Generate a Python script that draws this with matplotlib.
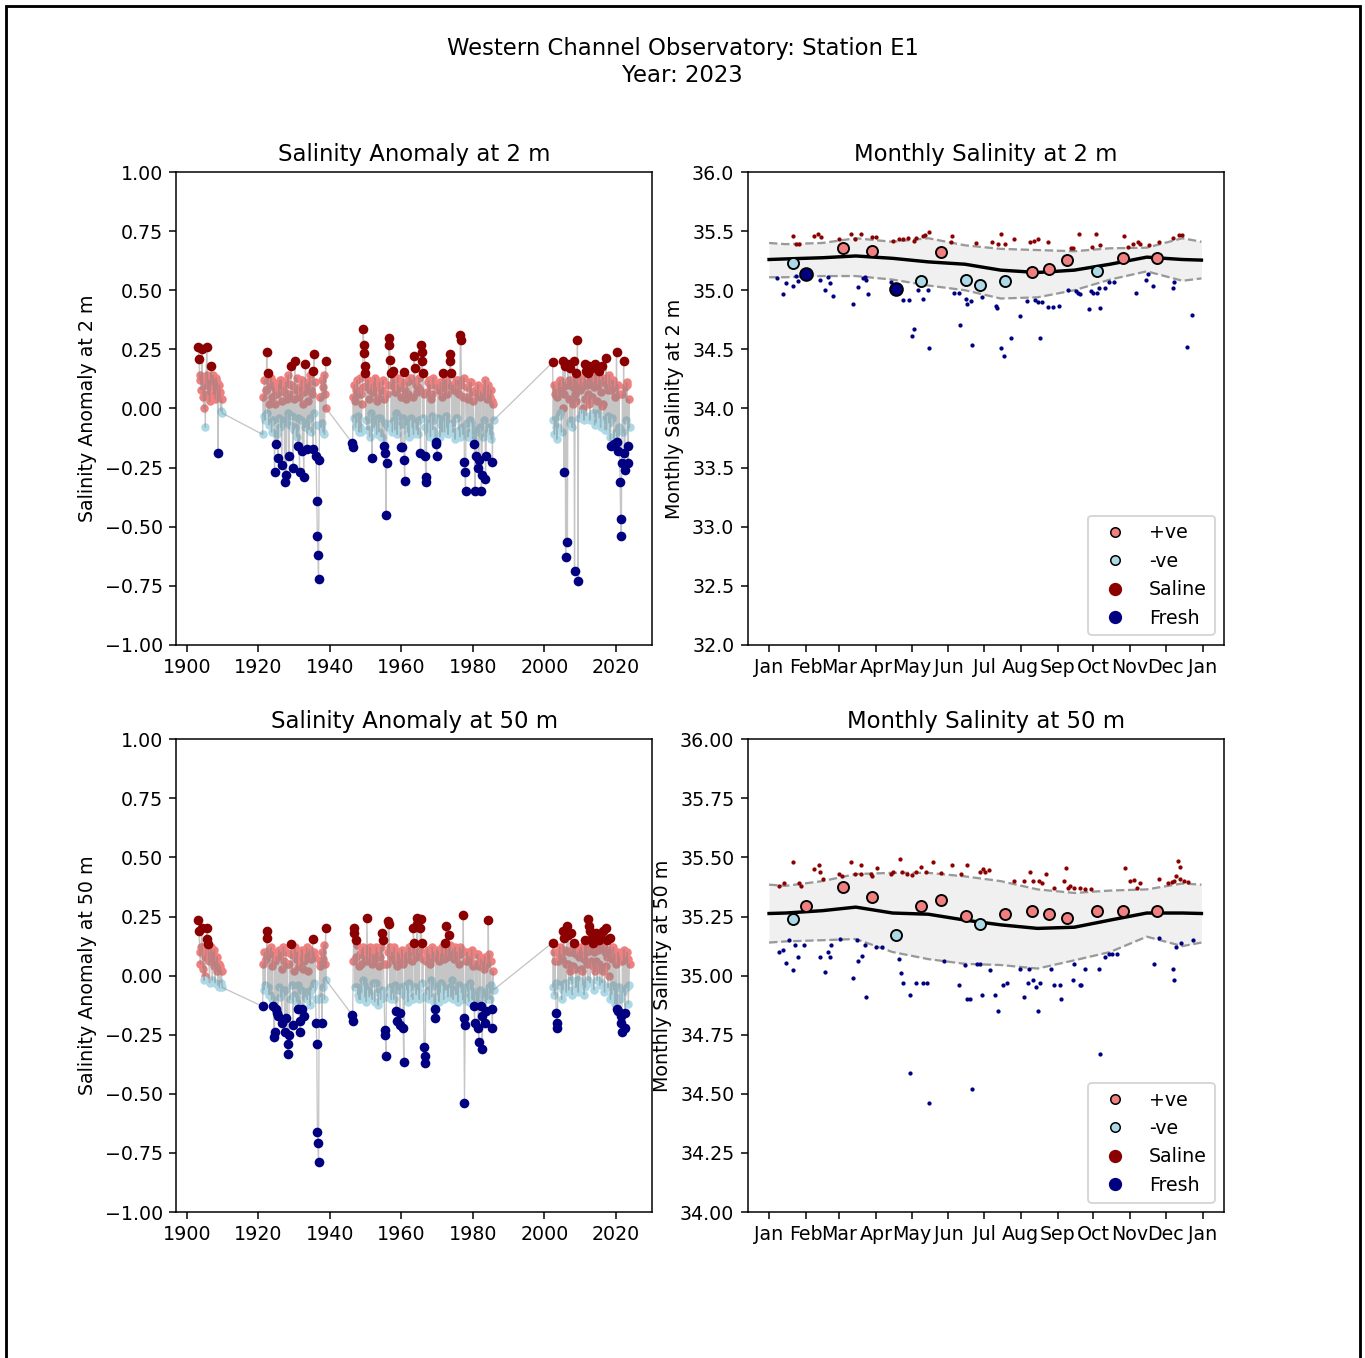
import matplotlib
matplotlib.use("Agg")
import numpy as np
import pandas as pd
import matplotlib.pyplot as plt
import matplotlib.dates as mdates
from matplotlib.lines import Line2D
from matplotlib.patches import Rectangle
from matplotlib.ticker import MultipleLocator

# ---------------- Anomaly time series, 2 m (segments: start, end, values) ----------------
a2_seg1_span = (1903.2, 1909.9)
a2_seg1 = [0.26, 0.21, 0.12, 0.14, 0.08, 0.25,
           0.13, 0.05, -0.0, 0.1, -0.08, 0.12,
           0.26, 0.14, 0.06, 0.12, 0.03, 0.09,
           0.18, 0.13, 0.1, 0.14, 0.06,
           0.12, 0.04, 0.13, 0.08,
           0.11, -0.19, 0.05, 0.1,
           0.07, -0.01, 0.04, -0.02]
a2_seg2_span = (1921.2, 1939.0)
a2_seg2 = [-0.11, 0.05, -0.03, 0.12, -0.05, 0.08,
           0.08, 0.24, -0.02, 0.15, 0.02, -0.07,
           0.1, -0.06, 0.13, -0.1, 0.05, 0.11,
           -0.05, 0.09, -0.27, 0.02, -0.15, 0.07,
           0.06, -0.11, -0.21, 0.1, -0.04, 0.12,
           -0.08, 0.12, -0.24, 0.03, -0.06, 0.09,
           0.07, -0.31, -0.05, 0.11, -0.28, 0.04,
           -0.02, 0.14, -0.2, 0.06, -0.07, 0.1,
           0.18, -0.03, 0.1, -0.25, 0.04, -0.09,
           0.2, -0.08, 0.08, -0.12, 0.13, -0.04,
           -0.16, 0.05, -0.27, 0.09, -0.05, 0.12,
           0.12, -0.18, 0.02, -0.29, 0.07, -0.08,
           0.19, -0.06, 0.1, -0.17, 0.03, 0.11,
           -0.09, 0.14, -0.04, 0.08, -0.1, 0.06,
           0.16, -0.17, 0.23, -0.02, 0.11, -0.07,
           -0.2, -0.39, -0.54, -0.62, -0.72, -0.22, 0.05,
           0.05, -0.08, 0.12, -0.06, 0.09, -0.1,
           0.14, -0.11, 0.06, 0.2, -0.0]
a2_seg3_span = (1946.2, 1985.8)
a2_seg3 = [-0.145, -0.165, 0.05, -0.04, 0.1, 0.03, -0.08,
           0.08, -0.06, 0.12, -0.03, 0.06, -0.1,
           0.13, -0.08, 0.06, -0.1, 0.02, 0.09,
           0.335, 0.27, 0.236, 0.18, 0.15, -0.05, 0.1, -0.09,
           0.12, -0.09, 0.04, -0.12, 0.08, -0.02,
           0.1, -0.21, 0.07, -0.05, 0.11, -0.08,
           0.13, -0.07, 0.09, -0.11, 0.03, -0.04,
           0.05, -0.1, 0.11, -0.04, 0.08, -0.12,
           0.08, -0.12, 0.12, -0.16, 0.04, -0.06,
           -0.19, -0.45, -0.23, 0.06, -0.08, 0.1,
           0.3, 0.27, 0.205, 0.15, -0.06, 0.1, -0.1,
           0.16, -0.05, 0.12, -0.09, 0.07, -0.02,
           0.07, -0.11, 0.13, -0.03, 0.09, -0.07,
           0.09, -0.165, 0.05, -0.165, 0.11, -0.04,
           0.155, -0.22, -0.305, 0.08, -0.07, 0.04,
           0.11, -0.1, 0.06, -0.12, 0.13, -0.05,
           0.13, -0.04, 0.12, -0.08, 0.05, -0.11,
           0.22, 0.17, -0.06, 0.1, -0.09, 0.07,
           0.09, -0.11, 0.13, -0.05, 0.08, -0.19,
           0.27, 0.24, 0.2, -0.04, 0.15, 0.06, -0.08,
           -0.2, -0.29, -0.31, 0.07, -0.1, 0.11,
           0.12, -0.06, 0.1, -0.12, 0.04, -0.03,
           0.06, -0.09, 0.13, -0.05, 0.1, -0.11,
           -0.14, -0.15, -0.2, 0.1, -0.04, 0.08,
           0.08, -0.12, 0.11, -0.07, 0.05, -0.1,
           0.15, -0.05, 0.09, -0.1, 0.12, -0.03,
           0.12, -0.08, 0.06, -0.11, 0.1, -0.06,
           0.23, 0.2, 0.15, -0.06, 0.09, -0.1,
           0.1, -0.1, 0.08, -0.13, 0.12, -0.04,
           0.07, -0.04, 0.12, -0.09, 0.06, -0.12,
           0.31, 0.29, 0.1, -0.08, 0.05, -0.11,
           0.13, -0.225, -0.27, -0.35, 0.05, -0.06,
           0.09, -0.12, 0.04, -0.1, 0.11, -0.05,
           0.11, -0.06, 0.07, -0.13, 0.03, -0.09,
           -0.15, -0.35, 0.08, -0.2, 0.06, -0.1,
           0.1, -0.25, -0.22, 0.05, -0.08, 0.07,
           -0.35, -0.28, 0.06, -0.12, 0.09, -0.05,
           0.12, -0.3, -0.2, 0.04, -0.1, 0.06,
           0.1, -0.08, 0.05, -0.11, 0.08, -0.13,
           0.03, -0.225, 0.02, -0.05]
a2_seg4_span = (2002.3, 2023.8)
a2_seg4 = [0.195, -0.05, 0.1, -0.11, 0.06, -0.08,
           0.08, -0.13, 0.05, -0.08, 0.11, -0.03,
           0.12, -0.02, 0.09, -0.1, 0.07, 0.0,
           0.2, -0.27, 0.06, 0.18, -0.63, 0.1,
           0.1, -0.565, 0.19, 0.04, 0.12, -0.06,
           0.17, -0.05, 0.12, -0.08, 0.09, 0.02,
           0.2, -0.69, 0.06, 0.15, 0.03, 0.1,
           0.29, -0.73, 0.1, -0.04, 0.08, 0.13,
           0.13, -0.02, 0.09, 0.0, 0.11, -0.05,
           0.19, 0.04, 0.16, -0.03, 0.1, 0.06,
           0.15, 0.02, 0.18, -0.05, 0.12, 0.04,
           0.17, 0.05, 0.11, -0.02, 0.09, -0.07,
           0.19, -0.06, 0.14, 0.03, 0.1, -0.02,
           0.16, -0.04, 0.12, -0.08, 0.07, 0.01,
           0.18, 0.02, 0.13, -0.05, 0.11, -0.09,
           0.215, -0.09, 0.1, -0.03, 0.08, -0.06,
           0.14, -0.12, -0.16, 0.08, 0.12, -0.04,
           0.12, -0.15, -0.13, 0.05, 0.09, -0.1,
           0.24, -0.14, 0.1, -0.18, 0.06, -0.08,
           -0.31, -0.47, -0.54, -0.23, 0.06, -0.1,
           0.2, -0.19, -0.26, 0.09, -0.05, 0.11,
           0.1, -0.23, -0.16, 0.04, -0.08]

# ---------------- Anomaly time series, 50 m ----------------
a50_seg1_span = (1903.2, 1909.9)
a50_seg1 = [0.234, 0.19, 0.1, 0.05, 0.12, 0.2,
            0.12, 0.03, -0.02, 0.08, 0.0, 0.11,
            0.2, 0.155, 0.135, 0.06, -0.03, 0.09,
            0.12, 0.07, -0.02, 0.1, 0.04,
            0.11, -0.03, 0.06, 0.02,
            0.08, -0.04, 0.05, -0.05,
            0.04, -0.03, 0.02, -0.05]
a50_seg2_span = (1921.2, 1939.0)
a50_seg2 = [-0.13, 0.05, -0.06, 0.1, -0.04, 0.07,
            0.07, 0.19, 0.16, -0.05, 0.11, -0.08,
            0.09, -0.08, 0.12, -0.1, 0.04, 0.1,
            -0.127, -0.26, -0.24, 0.06, -0.14, 0.08,
            0.08, -0.16, -0.17, 0.11, -0.05, 0.09,
            -0.09, 0.1, -0.2, 0.03, -0.07, 0.12,
            0.06, -0.24, -0.06, 0.1, -0.18, 0.05,
            -0.33, -0.29, -0.25, 0.05, -0.1, 0.09,
            0.135, -0.04, 0.09, -0.21, 0.02, -0.08,
            0.12, -0.09, 0.07, -0.11, 0.1, -0.04,
            -0.14, 0.04, -0.19, -0.24, 0.08, -0.06,
            0.11, -0.14, 0.03, -0.17, 0.06, -0.09,
            0.09, -0.07, 0.12, -0.1, 0.02, 0.1,
            -0.08, 0.11, -0.125, 0.07, -0.06, 0.08,
            0.157, -0.05, 0.1, -0.03, 0.08, -0.1,
            -0.2, -0.29, -0.66, -0.71, -0.79, -0.1, 0.06,
            0.04, -0.09, 0.1, -0.2, 0.07, -0.05,
            0.13, -0.1, 0.05, 0.2, -0.02]
a50_seg3_span = (1946.2, 1985.8)
a50_seg3 = [-0.165, -0.19, 0.06, 0.2, 0.18, -0.05, 0.08,
            0.15, -0.05, 0.13, -0.08, 0.04, -0.1,
            0.09, -0.1, 0.05, -0.07, 0.11, -0.02,
            0.12, -0.04, 0.08, -0.09, 0.06, -0.11,
            0.245, 0.1, -0.06, 0.07, -0.09, 0.12,
            0.11, -0.08, 0.05, -0.1, 0.09, -0.03,
            0.06, -0.11, 0.09, -0.03, 0.12, -0.07,
            0.1, -0.125, 0.04, -0.07, 0.08, -0.1,
            0.12, -0.06, 0.18, 0.15, 0.05, -0.09,
            -0.23, -0.25, -0.34, 0.05, -0.09, 0.1,
            0.23, 0.22, 0.12, -0.05, 0.08, -0.1,
            0.1, -0.07, 0.08, -0.1, 0.12, -0.04,
            0.06, -0.15, -0.19, 0.04, 0.1, -0.06,
            0.09, -0.21, -0.16, 0.07, -0.05, 0.11,
            0.05, -0.22, -0.366, -0.08, 0.09, -0.04,
            0.1, -0.06, 0.07, -0.11, 0.12, -0.03,
            0.12, -0.04, 0.1, -0.09, 0.06, -0.1,
            0.2, 0.14, 0.1, -0.05, 0.08, -0.08,
            0.245, 0.22, -0.06, 0.09, -0.1, 0.11,
            0.2, 0.24, 0.14, -0.03, 0.07, -0.09,
            -0.3, -0.34, -0.37, 0.06, -0.08, 0.1,
            0.11, -0.06, 0.09, -0.1, 0.05, -0.02,
            0.07, -0.09, 0.12, -0.04, 0.1, -0.11,
            -0.14, -0.18, 0.08, -0.05, 0.11, -0.08,
            0.1, -0.11, 0.06, -0.07, 0.09, -0.03,
            0.12, -0.04, 0.09, -0.1, 0.07, -0.06,
            0.14, 0.21, -0.06, 0.08, -0.09, 0.11,
            0.17, -0.05, 0.13, -0.09, 0.1, -0.02,
            0.11, -0.1, 0.07, -0.06, 0.12, -0.08,
            0.08, -0.08, 0.1, -0.11, 0.05, -0.04,
            0.12, -0.05, 0.09, -0.07, 0.11, -0.1,
            0.255, -0.18, -0.537, -0.21, 0.06, -0.05,
            0.1, -0.09, 0.06, -0.11, 0.08, -0.03,
            0.07, -0.06, 0.11, -0.1, 0.04, -0.08,
            -0.13, -0.2, 0.05, -0.08, 0.09, -0.11,
            0.09, -0.22, -0.28, 0.04, -0.06, 0.07,
            -0.13, -0.17, -0.31, 0.06, -0.09, 0.03,
            0.08, -0.2, -0.15, -0.07, 0.05, -0.1,
            0.237, -0.05, 0.09, -0.1, 0.06, -0.04,
            -0.14, -0.22, 0.02, -0.06]
a50_seg4_span = (2002.3, 2023.8)
a50_seg4 = [0.14, -0.05, 0.1, -0.08, 0.06, -0.03,
            -0.16, -0.2, -0.22, 0.06, -0.04, 0.09,
            0.12, -0.04, 0.09, -0.1, 0.07, -0.06,
            0.19, 0.16, -0.03, 0.11, 0.05, -0.07,
            0.21, 0.05, 0.17, -0.06, 0.1, 0.02,
            0.18, -0.02, 0.1, -0.08, 0.12, 0.04,
            0.14, 0.03, 0.12, -0.05, 0.09, -0.02,
            0.1, -0.07, 0.08, -0.02, 0.11, 0.03,
            0.12, 0.02, 0.1, -0.04, 0.07, -0.08,
            0.15, -0.05, 0.13, 0.05, 0.1, -0.02,
            0.24, 0.21, 0.19, -0.03, 0.12, 0.06,
            0.16, 0.04, 0.14, -0.06, 0.1, 0.02,
            0.18, 0.06, 0.13, -0.02, 0.11, 0.05,
            0.15, -0.04, 0.17, 0.03, 0.12, -0.03,
            0.19, 0.02, 0.12, -0.07, 0.1, 0.04,
            0.2, 0.08, 0.15, -0.05, 0.11, 0.0,
            0.16, -0.1, 0.11, -0.08, 0.07, -0.04,
            0.12, -0.06, 0.09, -0.12, 0.05, -0.09,
            -0.14, -0.15, 0.1, -0.05, 0.08, -0.1,
            -0.17, -0.2, -0.24, 0.06, -0.07, 0.09,
            0.11, -0.16, -0.22, 0.08, -0.05, 0.1,
            0.07, -0.12, -0.04, 0.05]

# thresholds for saline / fresh classification of anomalies
a2_thresh = (0.145, -0.135)
a50_thresh = (0.13, -0.125)

# ---------------- Monthly climatology (day of year 2023) ----------------
clim_days = [0, 14, 45, 73, 104, 134, 165, 195, 226, 257, 287, 318, 348, 364]
clim2_mean = [35.26, 35.265, 35.275, 35.29, 35.27, 35.24, 35.22, 35.17, 35.15, 35.17, 35.22, 35.28, 35.26, 35.255]
clim2_upper = [35.40, 35.39, 35.40, 35.44, 35.41, 35.44, 35.38, 35.35, 35.34, 35.33, 35.355, 35.36, 35.44, 35.41]
clim2_lower = [35.11, 35.11, 35.12, 35.12, 35.09, 35.04, 35.00, 34.93, 34.94, 35.00, 35.09, 35.16, 35.08, 35.10]
clim50_mean = [35.263, 35.265, 35.275, 35.29, 35.265, 35.26, 35.235, 35.215, 35.20, 35.205, 35.235, 35.265, 35.265, 35.263]
clim50_upper = [35.385, 35.38, 35.40, 35.43, 35.435, 35.435, 35.42, 35.40, 35.365, 35.35, 35.36, 35.365, 35.39, 35.385]
clim50_lower = [35.14, 35.145, 35.15, 35.155, 35.10, 35.07, 35.05, 35.045, 35.03, 35.065, 35.10, 35.165, 35.125, 35.14]

# ---------------- 2023 observations ----------------
obs_days = [20, 31, 62, 87, 107, 128, 145, 166, 178, 199, 221, 236, 251, 276, 298, 327]
obs2_vals = [35.23, 35.14, 35.36, 35.33, 35.01, 35.08, 35.32, 35.09, 35.045, 35.08, 35.157, 35.18, 35.26, 35.165, 35.275, 35.275]
obs2_cat = ['neg', 'fresh', 'pos', 'pos', 'fresh', 'neg', 'pos', 'neg', 'neg', 'neg', 'pos', 'pos', 'pos', 'neg', 'pos', 'pos']
obs50_vals = [35.24, 35.294, 35.374, 35.333, 35.174, 35.294, 35.32, 35.254, 35.22, 35.26, 35.273, 35.263, 35.245, 35.273, 35.273, 35.273]
obs50_cat = ['neg', 'pos', 'pos', 'pos', 'neg', 'pos', 'pos', 'pos', 'neg', 'pos', 'pos', 'pos', 'pos', 'pos', 'pos', 'pos']

# ---------------- Historical extremes (small dots) ----------------
sal2_days = [20, 23, 25, 38, 41, 44, 59, 69, 72, 77, 87, 90, 104, 109, 113, 117, 122, 124, 130, 131, 135,
             154, 153, 174, 188, 195, 193, 199, 206, 220, 223, 226, 235, 254, 256, 261, 272, 275, 279,
             299, 302, 306, 311, 312, 320, 328, 340, 345, 348]
sal2_vals = [35.46, 35.39, 35.395, 35.46, 35.48, 35.45, 35.43, 35.475, 35.43, 35.475, 35.45, 35.45, 35.42, 35.43,
             35.43, 35.44, 35.42, 35.44, 35.46, 35.47, 35.49, 35.46, 35.41, 35.40, 35.41, 35.48, 35.39, 35.39,
             35.43, 35.41, 35.415, 35.43, 35.41, 35.36, 35.36, 35.48, 35.37, 35.48, 35.38, 35.46, 35.37, 35.39,
             35.41, 35.39, 35.38, 35.41, 35.44, 35.47, 35.465]
fre2_days = [7, 12, 14, 20, 23, 24, 31, 43, 47, 50, 51, 54, 71, 75, 79, 81, 82, 83, 103, 113, 118, 120, 122,
             125, 130, 134, 135, 156, 160, 161, 166, 167, 170, 171, 179, 191, 192, 195, 198, 204, 211, 217,
             224, 226, 230, 228, 235, 239, 244, 252, 258, 260, 262, 269, 271, 273, 276, 278, 279, 283, 286,
             290, 309, 317, 319, 323, 340, 341, 356, 352]
fre2_vals = [35.10, 34.97, 35.06, 35.04, 35.12, 35.08, 35.12, 35.09, 35.00, 35.11, 35.06, 34.95, 34.88, 35.025,
             35.10, 35.11, 35.09, 34.97, 35.07, 34.92, 34.92, 34.61, 34.67, 35.0, 34.93, 35.0, 34.51, 34.98,
             34.98, 34.71, 34.93, 34.88, 34.91, 34.54, 34.94, 34.87, 34.85, 34.51, 34.44, 34.60, 34.78, 34.91,
             34.92, 34.90, 34.90, 34.60, 34.86, 34.86, 34.87, 35.0, 34.99, 34.98, 34.97, 34.84, 34.99, 34.98,
             34.975, 35.02, 34.85, 35.02, 35.07, 35.07, 34.98, 35.09, 35.14, 35.04, 35.02, 35.07, 34.79, 34.52]

sal50_days = [8, 13, 20, 25, 27, 38, 42, 43, 45, 59, 61, 69, 72, 77, 77, 86, 87, 91, 104, 110, 103, 112, 116,
              120, 124, 128, 132, 138, 145, 154, 162, 167, 178, 180, 182, 185, 206, 215, 220, 222, 227,
              233, 230, 240, 248, 252, 250, 253, 257, 262, 266, 271, 300, 304, 307, 312, 310, 328, 336,
              339, 341, 343, 346, 349, 353, 344, 346]
sal50_vals = [35.38, 35.39, 35.48, 35.39, 35.38, 35.45, 35.47, 35.44, 35.41, 35.43, 35.42, 35.48, 35.43, 35.43,
              35.47, 35.43, 35.42, 35.455, 35.44, 35.495, 35.43, 35.44, 35.43, 35.425, 35.44, 35.46, 35.44,
              35.48, 35.435, 35.47, 35.43, 35.47, 35.44, 35.45, 35.44, 35.445, 35.40, 35.40, 35.44, 35.40,
              35.40, 35.43, 35.39, 35.37, 35.40, 35.37, 35.455, 35.38, 35.37, 35.37, 35.365, 35.365, 35.455,
              35.40, 35.405, 35.39, 35.37, 35.41, 35.39, 35.395, 35.40, 35.42, 35.41, 35.40, 35.395, 35.485, 35.46]
fre50_days = [8, 12, 14, 17, 20, 22, 24, 29, 43, 47, 50, 51, 52, 60, 71, 74, 75, 78, 81, 82, 90, 95, 109, 111,
              113, 119, 124, 130, 133, 147, 160, 165, 167, 169, 175, 178, 179, 186, 190, 193, 197, 200, 211,
              215, 218, 222, 219, 226, 225, 228, 237, 240, 245, 246, 256, 257, 262, 263, 266, 278, 283, 286,
              289, 293, 324, 328, 340, 341, 343, 347, 357, 119, 135, 171, 279]
fre50_vals = [35.10, 35.11, 35.055, 35.15, 35.025, 35.13, 35.08, 35.13, 35.08, 35.015, 35.10, 35.08, 35.13,
              35.155, 34.99, 35.15, 35.06, 35.085, 35.13, 34.91, 35.12, 35.12, 35.07, 35.01, 34.97, 34.92,
              34.97, 34.97, 34.97, 35.06, 34.96, 35.045, 34.90, 34.90, 35.05, 35.05, 34.92, 35.025, 34.92,
              34.85, 34.96, 34.97, 35.03, 34.91, 34.97, 34.98, 35.03, 34.85, 34.95, 34.97, 35.03, 34.96,
              34.96, 34.90, 34.98, 35.05, 34.96, 34.96, 35.03, 35.03, 35.08, 35.09, 35.09, 35.09, 35.05,
              35.16, 35.03, 34.98, 35.12, 35.14, 35.15, 34.59, 34.46, 34.52, 34.67]

# ---------------- Labels ----------------
suptitle_text = "Western Channel Observatory: Station E1\nYear: 2023"
anom_titles = ["Salinity Anomaly at 2 m", "Salinity Anomaly at 50 m"]
anom_ylabels = ["Salinity Anomaly at 2 m", "Salinity Anomaly at 50 m"]
mon_titles = ["Monthly Salinity at 2 m", "Monthly Salinity at 50 m"]
mon_ylabels = ["Monthly Salinity at 2 m", "Monthly Salinity at 50 m"]
legend_labels = ["+ve", "-ve", "Saline", "Fresh"]

C_POS, C_NEG, C_SAL, C_FRE = "lightcoral", "lightblue", "darkred", "navy"

base = pd.Timestamp("2023-01-01")


def to_dates(days):
    return base + pd.to_timedelta(np.asarray(days, dtype=float), unit="D")


def draw_anomaly(ax, segs, thresh):
    t = np.concatenate([np.linspace(s[0], s[1], len(v)) for s, v in segs])
    v = np.concatenate([np.asarray(v, dtype=float) for s, v in segs])
    hi, lo = thresh
    ax.plot(t, v, color="grey", lw=0.7, alpha=0.45, zorder=3)
    pos = (v >= 0) & (v <= hi)
    neg = (v < 0) & (v >= lo)
    sal = v > hi
    fre = v < lo
    ax.scatter(t[pos], v[pos], s=20, c=C_POS, linewidths=0, zorder=2)
    ax.scatter(t[neg], v[neg], s=20, c=C_NEG, linewidths=0, zorder=2)
    ax.scatter(t[sal], v[sal], s=26, c=C_SAL, linewidths=0, zorder=4)
    ax.scatter(t[fre], v[fre], s=26, c=C_FRE, linewidths=0, zorder=4)
    ax.set_xlim(1897, 2030.2)
    ax.set_ylim(-1, 1)
    ax.yaxis.set_major_locator(MultipleLocator(0.25))
    ax.set_xticks([1900, 1920, 1940, 1960, 1980, 2000, 2020])


def draw_monthly(ax, mean, upper, lower, obs_vals, obs_cat, sal_d, sal_v, fre_d, fre_v):
    cd = to_dates(clim_days)
    ax.fill_between(cd, lower, upper, color="#f0f0f0", zorder=1, lw=0)
    ax.plot(cd, upper, color="#999999", ls="--", lw=1.2, zorder=2)
    ax.plot(cd, lower, color="#999999", ls="--", lw=1.2, zorder=2)
    ax.plot(cd, mean, color="black", lw=1.8, zorder=3)
    ax.scatter(to_dates(sal_d), sal_v, s=5, c=C_SAL, linewidths=0, zorder=4)
    ax.scatter(to_dates(fre_d), fre_v, s=5, c=C_FRE, linewidths=0, zorder=4)
    od = to_dates(obs_days)
    ov = np.asarray(obs_vals)
    cat = np.asarray(obs_cat)
    styles = {"pos": (C_POS, 34), "neg": (C_NEG, 34), "sal": (C_SAL, 45), "fresh": (C_FRE, 45)}
    for k, (col, sz) in styles.items():
        m = cat == k
        if m.any():
            ax.scatter(od[m], ov[m], s=sz, c=col, edgecolors="black", linewidths=1.0, zorder=5)
    ax.set_xlim(pd.Timestamp("2022-12-14"), pd.Timestamp("2024-01-19"))
    ax.xaxis.set_major_locator(mdates.MonthLocator())
    ax.xaxis.set_major_formatter(mdates.DateFormatter("%b"))
    handles = [
        Line2D([], [], ls="", marker="o", markersize=5, markerfacecolor=C_POS, markeredgecolor="black", markeredgewidth=0.8),
        Line2D([], [], ls="", marker="o", markersize=5, markerfacecolor=C_NEG, markeredgecolor="black", markeredgewidth=0.8),
        Line2D([], [], ls="", marker="o", markersize=6, markerfacecolor=C_SAL, markeredgecolor=C_SAL),
        Line2D([], [], ls="", marker="o", markersize=6, markerfacecolor=C_FRE, markeredgecolor=C_FRE),
    ]
    ax.legend(handles, legend_labels, loc="lower right")


fig = plt.figure(figsize=(10, 1358 / 136.5), dpi=136.5)
axs = fig.subplots(2, 2)
fig.subplots_adjust(left=0.129, right=0.8967, top=0.8733, bottom=0.1075, wspace=0.2, hspace=0.2)

segs2 = [(a2_seg1_span, a2_seg1), (a2_seg2_span, a2_seg2), (a2_seg3_span, a2_seg3), (a2_seg4_span, a2_seg4)]
segs50 = [(a50_seg1_span, a50_seg1), (a50_seg2_span, a50_seg2), (a50_seg3_span, a50_seg3), (a50_seg4_span, a50_seg4)]

draw_anomaly(axs[0, 0], segs2, a2_thresh)
draw_anomaly(axs[1, 0], segs50, a50_thresh)
for i in range(2):
    axs[i, 0].set_title(anom_titles[i])
    axs[i, 0].set_ylabel(anom_ylabels[i])

draw_monthly(axs[0, 1], clim2_mean, clim2_upper, clim2_lower, obs2_vals, obs2_cat,
             sal2_days, sal2_vals, fre2_days, fre2_vals)
axs[0, 1].set_ylim(32, 36)
axs[0, 1].yaxis.set_major_locator(MultipleLocator(0.5))
draw_monthly(axs[1, 1], clim50_mean, clim50_upper, clim50_lower, obs50_vals, obs50_cat,
             sal50_days, sal50_vals, fre50_days, fre50_vals)
axs[1, 1].set_ylim(34, 36)
axs[1, 1].yaxis.set_major_locator(MultipleLocator(0.25))
for i in range(2):
    axs[i, 1].set_title(mon_titles[i])
    axs[i, 1].set_ylabel(mon_ylabels[i])

fig.suptitle(suptitle_text, y=0.9726)

fig.patches.append(Rectangle((6 / 1365, -0.01), (1360 - 6) / 1365, 1.01 - 6 / 1358,
                             transform=fig.transFigure, fill=False, edgecolor="black", lw=1.5))

fig.savefig("out.png", dpi=136.5)
